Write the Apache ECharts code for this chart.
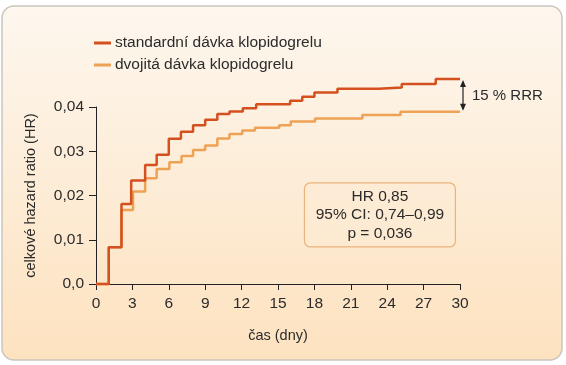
<!DOCTYPE html>
<html><head><meta charset="utf-8">
<script src="https://cdn.jsdelivr.net/npm/echarts@6/dist/echarts.min.js"></script>
<style>html,body{margin:0;padding:0;background:#fff}#c{width:566px;height:365px}</style>
</head><body><div id="c"></div>
<script>
// ---- data ----
const seriesNames = ['standardní dávka klopidogrelu', 'dvojitá dávka klopidogrelu'];
const stdDays = [0, 1.05, 2.1, 2.9, 4.05, 5.0, 6.0, 7.0, 8.0, 9.0, 10.0, 11.0, 12.1, 13.2, 16.0, 17.0, 18.0, 19.9, 23.3, 25.2, 28.0, 30];
const stdVals = [0, 0.0083, 0.0181, 0.0234, 0.0269, 0.0292, 0.0328, 0.0344, 0.0359, 0.0371, 0.0384, 0.0390, 0.0397, 0.0406, 0.0414, 0.0423, 0.0433, 0.0441, 0.0444, 0.0452, 0.0463, 0.0463];
const dblDays = [0, 1.05, 2.1, 3.05, 4.05, 5.0, 6.05, 7.05, 8.0, 9.0, 10.0, 11.0, 12.05, 13.1, 15.1, 16.05, 18.05, 21.95, 25.1, 30];
const dblVals = [0, 0.0083, 0.0167, 0.0209, 0.0239, 0.0260, 0.0275, 0.0289, 0.0303, 0.0313, 0.0329, 0.0339, 0.0347, 0.0353, 0.0359, 0.0367, 0.0374, 0.0382, 0.0389, 0.0389];
const xTicks = ['0','3','6','9','12','15','18','21','24','27','30'];
const yTicks = ['0,0','0,01','0,02','0,03','0,04'];
const statsLines = ['HR 0,85', '95% CI: 0,74–0,99', 'p = 0,036'];
const rrrLabel = '15 % RRR';

const RED = '#d4501f', ORANGE = '#eda255', TXT = '#2b2b2b';
const FONT = '"Liberation Sans", Arial, sans-serif';

const chart = echarts.init(document.getElementById('c'), null, {renderer: 'canvas'});
const zip = (a, b) => a.map((d, i) => [d, b[i]]);

const option = {
  animation: false,
  textStyle: {fontFamily: FONT},
  grid: {left: 96, right: 106, top: 107, bottom: 81, containLabel: false},
  legend: {
    orient: 'vertical', left: 89, top: 30, itemGap: 6,
    itemWidth: 17, itemHeight: 3, icon: 'rect',
    textStyle: {fontSize: 15.5, color: TXT, fontFamily: FONT, padding: [0, 0, 0, -1]},
    data: seriesNames
  },
  xAxis: {
    type: 'value', min: 0, max: 30, interval: 3,
    axisLine: {lineStyle: {color: '#222', width: 1}},
    axisTick: {length: 6, lineStyle: {color: '#222'}},
    splitLine: {show: false},
    axisLabel: {fontSize: 15.5, color: TXT, margin: 12, formatter: v => xTicks[Math.round(v / 3)]},
    name: 'čas (dny)', nameLocation: 'middle', nameGap: 44,
    nameTextStyle: {fontSize: 14.5, color: TXT}
  },
  yAxis: {
    type: 'value', min: 0, max: 0.04, interval: 0.01,
    axisLine: {show: true, lineStyle: {color: '#222', width: 1}},
    axisTick: {show: true, length: 7, lineStyle: {color: '#222'}},
    splitLine: {show: false},
    axisLabel: {fontSize: 15.5, color: TXT, margin: 12, formatter: v => yTicks[Math.round(v * 100)]},
    name: 'celkové hazard ratio (HR)', nameLocation: 'middle', nameGap: 58,
    nameTextStyle: {fontSize: 14.5, color: TXT}
  },
  series: [
    {name: seriesNames[1], type: 'line', step: 'end', data: zip(dblDays, dblVals), showSymbol: false, clip: false,
      lineStyle: {color: ORANGE, width: 2.5}, itemStyle: {color: ORANGE}, z: 2},
    {name: seriesNames[0], type: 'line', step: 'end', data: zip(stdDays, stdVals), showSymbol: false, clip: false,
      lineStyle: {color: RED, width: 2.5}, itemStyle: {color: RED}, z: 3}
  ],
  graphic: []
};
chart.setOption(option);

// annotations positioned through the chart's scales
const pTop = chart.convertToPixel({gridIndex: 0}, [30, stdVals[stdVals.length - 1]]);
const pBot = chart.convertToPixel({gridIndex: 0}, [30, dblVals[dblVals.length - 1]]);
const ax = pTop[0] + 3;
const statCenter = chart.convertToPixel({gridIndex: 0}, [23.4, 0.0156]);

chart.setOption({
  graphic: [
    {type: 'rect', z: -10, silent: true,
      shape: {x: 2, y: 6, width: 560, height: 354, r: 12},
      style: {fill: new echarts.graphic.LinearGradient(0, 0, 0, 1, [
        {offset: 0, color: '#fdf7ef'}, {offset: 1, color: '#fde2bf'}]),
        stroke: '#cbc5bf', lineWidth: 1.5}},
    {type: 'line', z: 50, shape: {x1: ax, y1: pTop[1] + 3, x2: ax, y2: pBot[1] - 3},
      style: {stroke: '#222', lineWidth: 1.2}},
    {type: 'polygon', z: 50, shape: {points: [[ax - 3, pTop[1] + 8], [ax, pTop[1] + 1], [ax + 3, pTop[1] + 8]]},
      style: {fill: '#222'}},
    {type: 'polygon', z: 50, shape: {points: [[ax - 3, pBot[1] - 8], [ax, pBot[1] - 1], [ax + 3, pBot[1] - 8]]},
      style: {fill: '#222'}},
    {type: 'text', z: 50, style: {text: rrrLabel, x: ax + 9, y: (pTop[1] + pBot[1]) / 2,
      verticalAlign: 'middle', font: '15px ' + FONT, fill: TXT}},
    {type: 'rect', z: 40, shape: {x: statCenter[0] - 75.5, y: statCenter[1] - 32, width: 151, height: 64, r: 6},
      style: {fill: 'rgba(253,236,212,0.4)', stroke: '#ebb37c', lineWidth: 1.2}},
    {type: 'text', z: 50, style: {text: statsLines.join('\n'), x: statCenter[0], y: statCenter[1],
      align: 'center', verticalAlign: 'middle', font: '15.5px ' + FONT, lineHeight: 18.5, fill: TXT}}
  ]
});
</script></body></html>
